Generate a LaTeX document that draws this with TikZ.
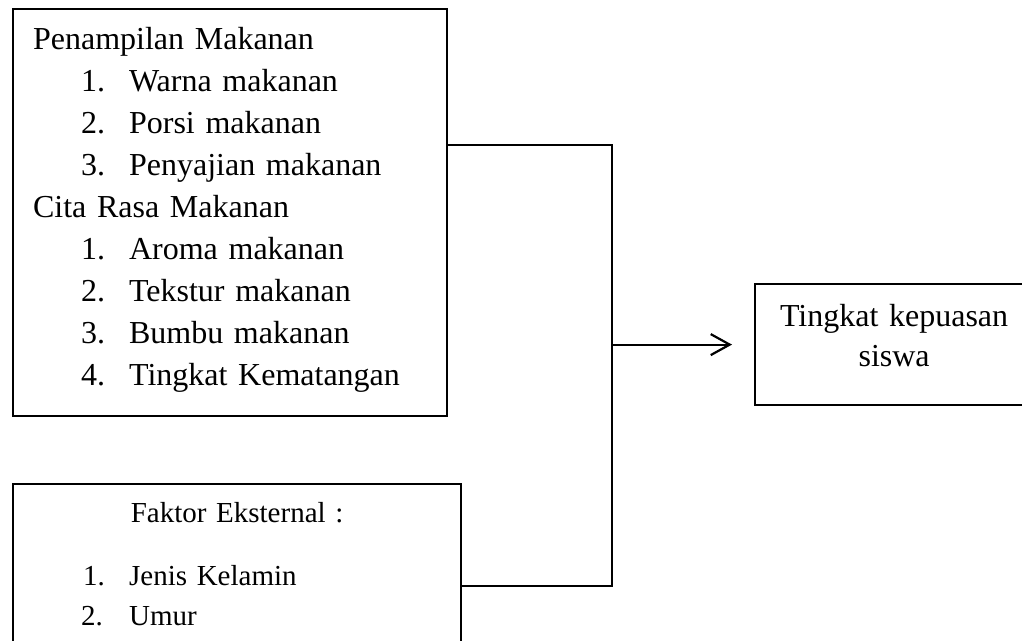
\documentclass[tikz,border=0pt]{standalone}
\usepackage{fontspec}
\setmainfont{Liberation Serif}
\usetikzlibrary{arrows.meta, positioning}

\tikzset{
  box/.style={draw, line width=2.2pt, rectangle, inner sep=0pt, align=left},
  link/.style={line width=2.2pt},
}

\begin{document}
\begin{tikzpicture}[x=1pt, y=-1pt]
\useasboundingbox (0,0) rectangle (1022,640);

% Penampilan & Cita Rasa
\node[box, anchor=north west, minimum width=434, minimum height=407, text width=434,
      font=\fontsize{32}{42}\selectfont] (tampil) at (12,8) {%
\hspace*{20pt}Penampilan Makanan\\
\hspace*{68pt}\makebox[48pt][l]{1.}Warna makanan\\
\hspace*{68pt}\makebox[48pt][l]{2.}Porsi makanan\\
\hspace*{68pt}\makebox[48pt][l]{3.}Penyajian makanan\\
\hspace*{20pt}Cita Rasa Makanan\\
\hspace*{68pt}\makebox[48pt][l]{1.}Aroma makanan\\
\hspace*{68pt}\makebox[48pt][l]{2.}Tekstur makanan\\
\hspace*{68pt}\makebox[48pt][l]{3.}Bumbu makanan\\
\hspace*{68pt}\makebox[48pt][l]{4.}Tingkat Kematangan\rule[-13pt]{0pt}{0pt}};

% Faktor Eksternal
\node[box, anchor=north west, minimum width=448, minimum height=161, text width=448,
      font=\fontsize{29}{40}\selectfont] (eksternal) at (12,483) {%
\makebox[448pt][c]{Faktor Eksternal :}\\[23pt]
\hspace*{70pt}\makebox[46pt][l]{1.}Jenis Kelamin\\
\hspace*{68pt}\makebox[48pt][l]{2.}Umur};

% Kepuasan
\node[box, align=center, anchor=north west, minimum width=278, minimum height=121,
      text width=278, font=\fontsize{32}{40}\selectfont] (kepuasan) at (754,283)
      {Tingkat kepuasan\\ siswa\rule[-19pt]{0pt}{0pt}};

% Connectors
\coordinate (ja) at (612,145);
\coordinate (jb) at (612,586);
\draw[link] (tampil.east |- ja) -- (ja) -- (jb) -- (eksternal.east |- jb);
\draw[link, -{Straight Barb[length=19pt, width=21pt]}] (ja |- kepuasan.west) -- ([xshift=-22pt]kepuasan.west);

\end{tikzpicture}
\end{document}
